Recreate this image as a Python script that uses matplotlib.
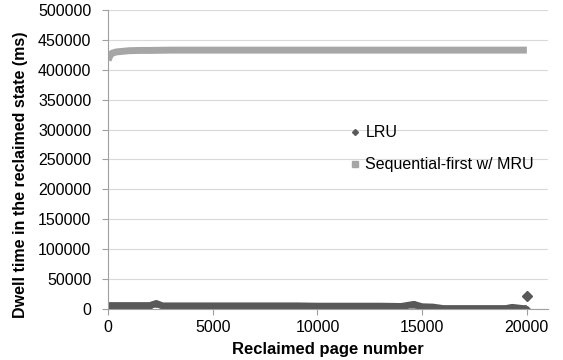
import matplotlib.pyplot as plt

plt.rcParams['font.family'] = ['Liberation Sans', 'DejaVu Sans']

# LRU dwell times (ms)
lru_x = [0, 500, 1000, 1500, 2000, 2300, 2600, 3000, 4000, 5000, 6000, 7000, 8000, 9000,
         10000, 11000, 12000, 13000, 14000, 14600, 15000, 15500, 15800, 16000, 17000,
         18000, 19000, 19300, 19800, 20000]
lru_y = [5500, 5500, 5500, 5500, 5500, 9000, 5000, 5000, 5000, 5000, 5000, 5000, 5000, 5000,
         4500, 4500, 4500, 4500, 4000, 7500, 3500, 3000, 1500, 500, 500,
         500, 500, 2500, 500, 500]
lru_out_x = [20000]
lru_out_y = [22000]

# Sequential-first w/ MRU dwell times (ms)
seq_x = [0, 100, 200, 400, 700, 1000, 1500, 2000, 3000, 5000, 8000, 10000, 12000,
         15000, 18000, 20000]
seq_y = [416000, 425000, 428000, 430000, 431000, 432000, 432500, 432500, 433000, 433000,
         433000, 433000, 433000, 433000, 433000, 433000]
seq_low_x = [7000, 10300, 14600]
seq_low_y = [1000, 1000, 1000]

dark = '#595959'
light = '#a6a6a6'

fig = plt.figure(figsize=(5.63, 3.6), dpi=100)
ax = fig.add_axes([0.192, 0.142, 0.781, 0.830])

ax.plot(seq_x, seq_y, color=light, lw=5, solid_capstyle='butt')
ax.plot(seq_low_x, seq_low_y, 's', color=light, ms=4, ls='')
ax.plot(lru_x, lru_y, color=dark, lw=5, solid_capstyle='butt')
ax.plot(lru_x, lru_y, 'D', color=dark, ms=3, ls='')
ax.plot(lru_out_x, lru_out_y, 'D', color=dark, ms=5, ls='')

# legend handles
ax.plot([], [], 'D', color=dark, ms=3, label='LRU')
ax.plot([], [], 's', color=light, ms=4, label='Sequential-first w/ MRU')
handles, labels = ax.get_legend_handles_labels()
ax.legend(handles, labels, loc='upper left', bbox_to_anchor=(0.52, 0.662), frameon=False,
          fontsize=11.5, handlelength=0.5, handletextpad=0.4, labelspacing=1.05)

ax.set_xlim(0, 21000)
ax.set_ylim(0, 500000)
ax.set_xticks([0, 5000, 10000, 15000, 20000])
ax.set_yticks(range(0, 500001, 50000))
ax.grid(axis='y', color='#d9d9d9', lw=0.8)
ax.set_axisbelow(True)
for s in ['top', 'right']:
    ax.spines[s].set_visible(False)
ax.spines['left'].set_color('#a0a0a0')
ax.spines['bottom'].set_color('#a0a0a0')
ax.tick_params(axis='y', length=4, color='#a0a0a0', labelsize=11.5, pad=8)
ax.tick_params(axis='x', length=4, color='#a0a0a0', labelsize=11.5, pad=4)

ax.set_xlabel('Reclaimed page number', fontsize=12, fontweight='bold', labelpad=5)
ax.set_ylabel('Dwell time in the reclaimed state (ms)', fontsize=11.5, fontweight='bold')
ax.yaxis.set_label_coords(-0.182, 0.448)

fig.savefig('out.png')
